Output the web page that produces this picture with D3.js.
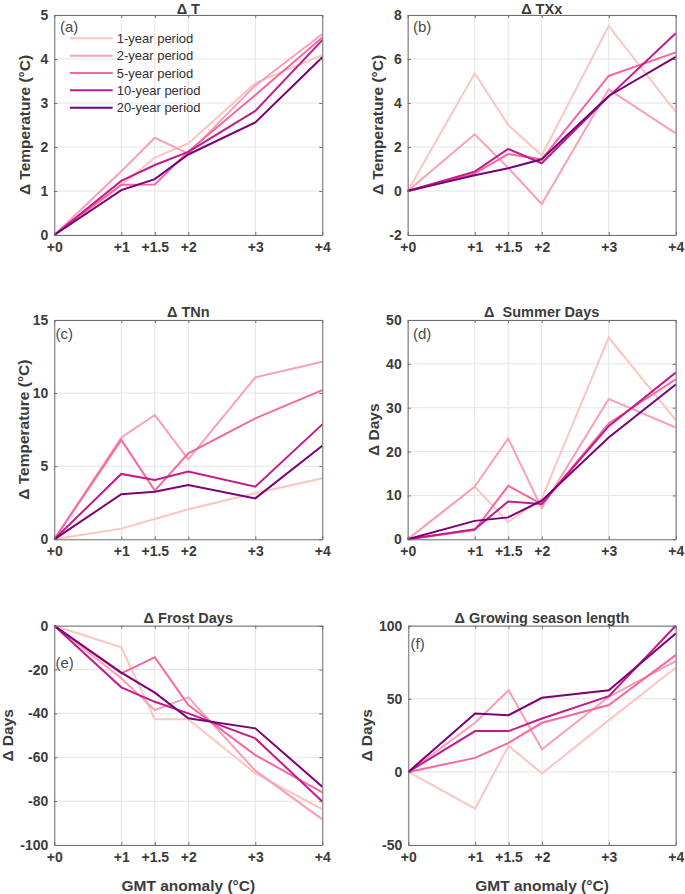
<!DOCTYPE html>
<html>
<head>
<meta charset="utf-8">
<script src="https://cdn.jsdelivr.net/npm/d3@7"></script>
<style>
  html, body { margin: 0; padding: 0; background: #fff; }
  svg { display: block; font-family: "Liberation Sans", Arial, sans-serif; }
</style>
</head>
<body>
<svg id="chart" width="685" height="894"></svg>
<script>
// ---------------- DATA ----------------
const gmtLevels = [0, 1, 1.5, 2, 3, 4];
const gmtTickLabels = ["+0", "+1", "+1.5", "+2", "+3", "+4"];
const seriesNames = ["1-year period", "2-year period", "5-year period", "10-year period", "20-year period"];
const seriesColors = ["#fcc5c0", "#fa9fb5", "#f768a1", "#c51b8a", "#7a0177"];

// each panel: one array per series (1, 2, 5, 10, 20-year period)
const deltaT = [
  [0, 1.13, 1.76, 2.08, 3.45, 4.09],
  [0, 1.45, 2.21, 1.85, 3.40, 4.57],
  [0, 1.14, 1.15, 1.90, 3.18, 4.49],
  [0, 1.23, 1.59, 1.89, 2.82, 4.43],
  [0, 1.02, 1.27, 1.83, 2.56, 4.04]
];
const deltaTXx = [
  [0, 5.35, 3.00, 1.62, 7.50, 3.60],
  [0, 2.58, 1.05, -0.59, 4.62, 2.62],
  [0, 0.80, 1.68, 1.44, 5.23, 6.30],
  [0, 0.88, 1.91, 1.26, 4.29, 7.17],
  [0, 0.72, 1.03, 1.44, 4.32, 6.10]
];
const deltaTNn = [
  [0, 0.73, 1.39, 2.05, 3.15, 4.17],
  [0, 6.97, 8.50, 5.47, 11.08, 12.15],
  [0, 6.80, 3.33, 5.88, 8.27, 10.20],
  [0, 4.47, 4.06, 4.63, 3.60, 7.86],
  [0, 3.08, 3.26, 3.72, 2.80, 6.40]
];
const deltaSummerDays = [
  [0, 12.0, 3.9, 9.3, 46.0, 27.2],
  [0, 12.0, 23.0, 7.1, 32.0, 25.5],
  [0, 2.1, 12.2, 8.0, 26.4, 36.5],
  [0, 2.3, 8.6, 8.05, 25.8, 38.0],
  [0, 4.2, 5.0, 8.8, 23.2, 35.3]
];
const deltaFrostDays = [
  [0, -9.9, -42.7, -42.7, -67.3, -83.7],
  [0, -24.0, -38.5, -32.7, -66.1, -88.3],
  [0, -21.7, -14.4, -36.2, -59.0, -76.0],
  [0, -28.1, -34.7, -40.0, -51.4, -80.2],
  [0, -21.4, -30.5, -42.2, -46.8, -73.4]
];
const deltaGrowingSeason = [
  [0, -25.1, 17.8, -1.1, 35.4, 71.2],
  [0, 33.6, 55.9, 15.5, 51.4, 75.8],
  [0, 9.6, 19.9, 33.6, 45.7, 79.9],
  [0, 27.9, 27.9, 36.5, 51.8, 100.0],
  [0, 40.0, 38.8, 50.7, 55.9, 94.7]
];

const panelTitles = ["\u0394 T", "\u0394 TXx", "\u0394 TNn", "\u0394  Summer Days", "\u0394 Frost Days", "\u0394 Growing season length"];
const panelLetters = ["(a)", "(b)", "(c)", "(d)", "(e)", "(f)"];
const yLabels = ["\u0394 Temperature (\u00B0C)", "\u0394 Temperature (\u00B0C)", "\u0394 Temperature (\u00B0C)", "\u0394 Days", "\u0394 Days", "\u0394 Days"];
const yDomains = [[0, 5], [-2, 8], [0, 15], [0, 50], [-100, 0], [-50, 100]];
const yTickValues = [
  [0, 1, 2, 3, 4, 5],
  [-2, 0, 2, 4, 6, 8],
  [0, 5, 10, 15],
  [0, 10, 20, 30, 40, 50],
  [-100, -80, -60, -40, -20, 0],
  [-50, 0, 50, 100]
];
const panelData = [deltaT, deltaTXx, deltaTNn, deltaSummerDays, deltaFrostDays, deltaGrowingSeason];
const xAxisLabel = "GMT anomaly (\u00B0C)";

// ---------------- LAYOUT ----------------
const boxes = [
  { x0: 54.3, x1: 322.3, y0: 15, y1: 235, ylabX: 24, letter: [60, 26], titleY: 13.6 },
  { x0: 407.7, x1: 675.7, y0: 15, y1: 235, ylabX: 377, letter: [413, 26], titleY: 13.6 },
  { x0: 54.3, x1: 322.3, y0: 320, y1: 539.3, ylabX: 23, letter: [55.5, 333], titleY: 317 },
  { x0: 407.7, x1: 675.7, y0: 320, y1: 539.3, ylabX: 373, letter: [413, 333], titleY: 317 },
  { x0: 54.3, x1: 322.3, y0: 625.7, y1: 845, ylabX: 7, letter: [55.5, 662], titleY: 622.7 },
  { x0: 408.3, x1: 675.7, y0: 625.7, y1: 845, ylabX: 366, letter: [410.5, 643], titleY: 622.7 }
];
const textColor = "#3c3c3c";
const frameColor = "#6e6e6e";
const gridColor = "#e4e4e4";

const svg = d3.select("#chart");

panelData.forEach((series, p) => {
  const b = boxes[p];
  const x = d3.scaleLinear().domain([0, 4]).range([b.x0, b.x1]);
  const y = d3.scaleLinear().domain(yDomains[p]).range([b.y1, b.y0]);
  const g = svg.append("g");

  // grid
  g.append("g").selectAll("line").data(gmtLevels).join("line")
    .attr("x1", d => x(d)).attr("x2", d => x(d))
    .attr("y1", b.y0).attr("y2", b.y1)
    .attr("stroke", gridColor).attr("stroke-width", 1);
  g.append("g").selectAll("line").data(yTickValues[p]).join("line")
    .attr("x1", b.x0).attr("x2", b.x1)
    .attr("y1", d => y(d)).attr("y2", d => y(d))
    .attr("stroke", gridColor).attr("stroke-width", 1);

  // lines
  const line = d3.line().x((d, i) => x(gmtLevels[i])).y(d => y(d));
  series.forEach((vals, s) => {
    g.append("path").datum(vals)
      .attr("d", line)
      .attr("fill", "none")
      .attr("stroke", seriesColors[s])
      .attr("stroke-width", 2)
      .attr("stroke-linejoin", "miter");
  });

  // axes (inward ticks on all four sides)
  const tickLen = 3;
  const xB = d3.axisBottom(x).tickValues(gmtLevels).tickFormat((d, i) => gmtTickLabels[i]).tickSizeInner(-tickLen).tickSizeOuter(0).tickPadding(7);
  const xT = d3.axisTop(x).tickValues(gmtLevels).tickFormat("").tickSizeInner(-tickLen).tickSizeOuter(0);
  const yL = d3.axisLeft(y).tickValues(yTickValues[p]).tickFormat(d => String(d)).tickSizeInner(-tickLen).tickSizeOuter(0).tickPadding(6);
  const yR = d3.axisRight(y).tickValues(yTickValues[p]).tickFormat("").tickSizeInner(-tickLen).tickSizeOuter(0);

  const styleAxis = sel => {
    sel.select(".domain").attr("stroke", frameColor);
    sel.selectAll(".tick line").attr("stroke", frameColor);
    sel.selectAll(".tick text").attr("fill", textColor).attr("font-size", "14px").attr("font-weight", "bold")
      .attr("font-family", "'Liberation Sans', Arial, sans-serif");
  };
  g.append("g").attr("transform", `translate(0,${b.y1})`).call(xB).call(styleAxis);
  g.append("g").attr("transform", `translate(0,${b.y0})`).call(xT).call(styleAxis);
  g.append("g").attr("transform", `translate(${b.x0},0)`).call(yL).call(styleAxis);
  g.append("g").attr("transform", `translate(${b.x1},0)`).call(yR).call(styleAxis);

  // title
  g.append("text")
    .attr("x", (b.x0 + b.x1) / 2).attr("y", b.titleY)
    .attr("text-anchor", "middle")
    .attr("font-size", "14.5px").attr("font-weight", "bold").attr("fill", textColor)
    .style("white-space", "pre")
    .text(panelTitles[p]);

  // y label
  g.append("text")
    .attr("transform", `translate(${b.ylabX},${(b.y0 + b.y1) / 2}) rotate(-90)`)
    .attr("text-anchor", "middle").attr("dominant-baseline", "central")
    .attr("font-size", "15.5px").attr("font-weight", "bold").attr("fill", textColor)
    .text(yLabels[p]);

  // panel letter
  g.append("text")
    .attr("x", b.letter[0]).attr("y", b.letter[1])
    .attr("dominant-baseline", "central")
    .attr("font-size", "15px").attr("fill", "#4a4a4a")
    .text(panelLetters[p]);

  // x label on bottom row
  if (p >= 4) {
    g.append("text")
      .attr("x", (b.x0 + b.x1) / 2).attr("y", 885)
      .attr("text-anchor", "middle").attr("dominant-baseline", "central")
      .attr("font-size", "15.5px").attr("font-weight", "bold").attr("fill", textColor)
      .text(xAxisLabel);
  }

  // legend in panel (a)
  if (p === 0) {
    const lg = g.append("g");
    seriesNames.forEach((name, s) => {
      const yy = 38.3 + s * 17.35;
      lg.append("line").attr("x1", 70).attr("x2", 112.7).attr("y1", yy).attr("y2", yy)
        .attr("stroke", seriesColors[s]).attr("stroke-width", 2);
      lg.append("text").attr("x", 116.7).attr("y", yy)
        .attr("dominant-baseline", "central")
        .attr("font-size", "13px").attr("fill", "#333")
        .text(name);
    });
  }
});
</script>
</body>
</html>
